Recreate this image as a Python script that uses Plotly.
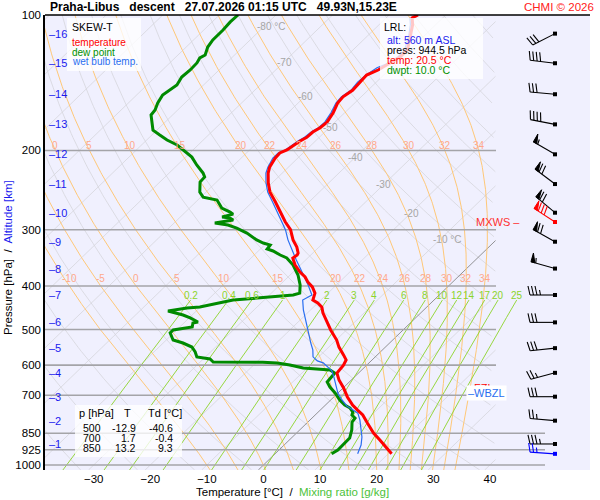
import numpy as np
import plotly.graph_objects as go

# temperature profile (hPa, degC)
t_pres = [100, 101.5, 105, 111, 117, 120, 124, 128, 130.5, 132.5, 136, 141, 147, 152, 157, 165, 173, 178,
          182, 187, 190.5, 195.5, 199.5, 202.6, 208, 218, 224.5, 236, 247.5, 260, 274, 288, 300, 316, 328,
          338, 341.5, 347, 359, 372.5, 382, 392, 402, 415, 430, 436.5, 446, 459, 481, 501, 527.5, 547, 570,
          584, 600, 615, 625, 647, 674.5, 706, 736, 755, 774, 807, 849, 880, 912, 944.5]
t_vals = [-54.9, -55.4, -54.1, -52.5, -51.0, -50.4, -50.4, -51.1, -51.6, -51.9, -53.0, -52.9, -52.7, -53.2,
          -53.0, -52.0, -51.4, -51.6, -52.1, -52.2, -52.7, -53.1, -53.4, -54.1, -54.0, -53.3, -52.5, -50.7,
          -48.7, -46.0, -43.3, -40.6, -38.2, -35.9, -33.9, -32.6, -32.4, -32.6, -31.0, -28.8, -27.0, -25.6,
          -23.9, -22.3, -21.4, -20.0, -18.5, -17.3, -14.9, -12.8, -9.9, -8.2, -5.9, -4.6, -4.1, -4.0, -3.8,
          -2.2, 0.1, 2.4, 4.8, 6.6, 8.4, 10.7, 13.6, 16.0, 18.4, 20.6]

# wet bulb temperature
w_pres = [101.5, 105, 111, 117, 120, 124, 128, 131, 136, 141, 147, 152, 157, 165, 173, 178, 182, 187, 190.5,
          195.5, 199.5, 202.6, 208, 218, 224.5, 236, 247.5, 260, 274, 288, 300, 316, 333, 350, 365, 384, 398,
          419, 423, 430, 452, 469, 484, 501, 519.5, 536, 555, 575, 587, 593, 606, 618, 638, 664, 692, 717,
          740, 755, 767, 794, 836, 867, 903, 944.5]
w_vals = [-55.8, -54.5, -52.8, -51.4, -50.8, -50.8, -51.4, -52.5, -53.1, -53.3, -53.0, -53.5, -53.3, -52.4,
          -51.8, -51.9, -52.4, -52.6, -53.1, -53.4, -53.7, -54.4, -54.4, -53.6, -52.9, -51.1, -49.1, -46.5,
          -43.8, -41.3, -39.1, -36.8, -34.2, -31.7, -29.5, -26.8, -25.0, -22.5, -22.8, -23.2, -21.3, -19.7,
          -18.3, -16.8, -15.3, -13.9, -12.3, -11.0, -9.5, -8.1, -6.5, -5.1, -3.6, -1.8, 0.0, 2.0, 4.0, 5.8,
          7.2, 8.8, 10.8, 12.3, 13.6, 14.6]

# dew point
d_pres = [100, 103.6, 108, 113.6, 117.8, 122.7, 124.6, 127.8, 132.5, 137.4, 143.1, 146.8, 150.6, 156.9,
          162.6, 166.8, 173.8, 180.2, 184.8, 189.6, 194.5, 199.5, 206.9, 215.4, 224.5, 229.1, 235, 247.5,
          253.9, 257.8, 264.5, 268.6, 274.1, 277, 281.2, 282.7, 285.5, 289.9, 292.9, 297.5, 305.2, 316.2,
          321.1, 324.4, 331.1, 334.5, 341.5, 346.7, 359.4, 378.3, 398.1, 414.9, 419, 430, 445.6, 447.8,
          454.8, 464.2, 471.3, 481.1, 483.6, 493.5, 501.2, 508.9, 527.5, 535.7, 546.8, 561, 575.4, 581.4,
          590.3, 590.6, 591, 593.4, 599.5, 608.8, 611.9, 615.1, 624.6, 640.8, 654.1, 671, 691.8, 717, 735.8,
          747.2, 762.6, 774.4, 786.4, 802.6, 835.9, 871, 902.7, 926.1, 944.5]
d_vals = [-86.7, -86.8, -86.6, -86.6, -86.2, -85.2, -85.6, -85.2, -85.1, -85.3, -84.7, -85.0, -85.4, -84.8,
          -84.0, -83.8, -82.2, -80.7, -78.6, -76.4, -73.7, -71.8, -68.9, -66.6, -64.0, -63.0, -62.9, -61.1,
          -59.6, -56.6, -55.2, -54.3, -52.1, -51.2, -52.6, -51.0, -50.1, -52.8, -50.1, -48.0, -45.3, -42.3,
          -40.6, -39.0, -38.8, -37.4, -35.4, -33.7, -31.3, -28.6, -26.4, -25.0, -25.8, -35.5, -40.1, -42.2,
          -45.0, -41.6, -39.8, -37.7, -38.4, -37.8, -40.6, -40.6, -38.8, -36.5, -34.2, -32.7, -31.5, -28.8,
          -27.7, -23.0, -18.9, -16.2, -13.6, -10.7, -8.1, -5.6, -4.2, -4.1, -3.9, -2.5, -0.5, 1.6, 3.4, 4.9,
          6.1, 6.5, 7.6, 7.8, 9.2, 10.3, 10.4, 10.4, 10.0]

# altitude levels (km) and their pressure, wind at each of them
alt_km = [1, 2, 3, 4, 5, 6, 7, 8, 9, 10, 11, 12, 13, 14, 15, 16]
alt_pres = [898, 797, 705, 624, 550, 482, 419, 366, 319, 275, 237.5, 204, 175, 150, 128, 110]
wind_dir = [270, 275, 270, 255, 264, 270, 270, 286, 299, 310, 307, 300, 281, 275, 277, 243]
wind_spd = [35, 25, 30, 25, 30, 30, 35, 55, 70, 70, 70, 55, 40, 30, 40, 30]
sfc_wind = (944.5, 274, 25)
mxws_wind = (288.4, 303, 80)

lrl_alt = 560
lrl_press = 944.5
lrl_temp = 20.5
lrl_dwpt = 10.0

tab_p = [500, 700, 850]
tab_t = [-12.9, 1.7, 13.2]
tab_td = [-40.6, -0.4, 9.3]

p_ticks = [100, 200, 300, 400, 500, 600, 700, 850, 925, 1000]
t_ticks = [-30, -20, -10, 0, 10, 20, 30, 40]
isobars = [200, 300, 400, 500, 600, 700, 850, 925, 1000]
iso_lab_t = [-80, -70, -60, -50, -40, -30, -20, -10]
iso_lab_p = [106.3, 127.2, 151.4, 177.4, 206.9, 238.5, 275.5, 316.2]
thw_lines = [-10, -5, 0, 5, 10, 15, 20, 22, 24, 26, 28, 30, 32, 34]
thw_lab_200 = [0, 5, 10, 15, 20, 22, 24, 26, 28, 30, 32, 34]
mix_lines = [0.2, 0.4, 0.6, 1, 2, 3, 4, 6, 8, 10, 12, 14, 17, 20, 25]

# skew-T geometry
K_SKEW = 82.2
PXC = 5.66                      # pixels per degree
X_LEFT = -38.6
X_RIGHT = X_LEFT + 545 / PXC
P_BOTTOM = 10 ** (2 + 455 / 450)
X_GRID = 41.0


def skew(t, p):
    return np.asarray(t, float) + K_SKEW * np.log10(1000.0 / np.asarray(p, float))


def px2x(px):
    return X_LEFT + (px - 45) / PXC


def joined(segs):
    xs, ys = [], []
    for sx, sy in segs:
        xs += list(sx) + [None]
        ys += list(sy) + [None]
    return xs, ys


def line(segs, color, width, **kw):
    xs, ys = joined(segs)
    return go.Scatter(x=xs, y=ys, mode="lines", line=dict(color=color, width=width),
                      hoverinfo="skip", showlegend=False, **kw)


def moist_curve(thw):
    def f(T, p):
        tc = T - 273.15
        es = 6.112 * np.exp(17.67 * tc / (tc + 243.5))
        rs = 0.622 * es / (p - es)
        return (287.04 * T + 2.501e6 * rs) / (p * (1005.7 + 2.501e6 ** 2 * rs * 0.622 / (287.04 * T * T)))

    def run(p_end, h):
        T, p = thw + 273.15, 1000.0
        ps, ts = [p], [T]
        while (p_end - p) * np.sign(h) > 1e-6:
            k1 = f(T, p)
            k2 = f(T + h * k1 / 2, p + h / 2)
            k3 = f(T + h * k2 / 2, p + h / 2)
            k4 = f(T + h * k3, p + h)
            T += h * (k1 + 2 * k2 + 2 * k3 + k4) / 6
            p += h
            ps.append(p)
            ts.append(T)
        return ps, ts

    pu, tu = run(100.0, -2.0)
    pd_, td_ = run(1030.0, 2.0)
    return np.array(pd_[::-1] + pu[1:]), np.array(td_[::-1] + tu[1:]) - 273.15


def mix_td(w, p):
    e = w * p / (622.0 + w)
    a = np.log(e / 6.112)
    return 243.5 * a / (17.67 - a)


def masked(x, limit=X_GRID):
    x = np.array(x, float)
    return [None if v > limit else v for v in x]


fig = go.Figure()

# dry adiabats
segs = []
pg = np.geomspace(P_BOTTOM, 100, 120)
for th in range(220, 480, 10):
    tt = th * (pg / 1000.0) ** 0.2857 - 273.15
    segs.append((masked(skew(tt, pg)), pg))
fig.add_trace(line(segs, "#d6d6dc", 0.8))

# isotherms
segs = []
for t in range(-130, 50, 10):
    if t == 0:
        continue
    xb = float(skew(t, P_BOTTOM))
    if xb > X_GRID:
        continue
    pt = 100.0
    if float(skew(t, pt)) > X_GRID:
        pt = 1000.0 / 10 ** ((X_GRID - t) / K_SKEW)
    segs.append(([xb, float(skew(t, pt))], [P_BOTTOM, pt]))
fig.add_trace(line(segs, "#d6d6dc", 0.8))
pt0 = 1000.0 / 10 ** (X_GRID / K_SKEW)
fig.add_trace(line([([float(skew(0, P_BOTTOM)), X_GRID], [P_BOTTOM, pt0])], "#7a7a7a", 0.8))

# moist adiabats
moist = {}
segs = []
for thw in thw_lines:
    mp, mt = moist_curve(thw)
    moist[thw] = (mp, mt)
    segs.append((masked(skew(mt, mp)), mp))
fig.add_trace(line(segs, "#ffc878", 1.0))

# mixing ratio lines
segs = []
pm = np.geomspace(P_BOTTOM, 430, 40)
for w in mix_lines:
    segs.append((skew(mix_td(w, pm), pm), pm))
fig.add_trace(line(segs, "#8cd42a", 0.9))

# isobars
segs = []
for p in isobars:
    xr = px2x(545) if p >= 850 else px2x(496)
    segs.append(([X_LEFT, xr], [p, p]))
fig.add_trace(line(segs, "#a4a4a8", 1.6))

# profiles
fig.add_trace(line([(skew(d_vals, d_pres), d_pres)], "#008a00", 3))
fig.add_trace(line([(skew(w_vals, w_pres), w_pres)], "#2a6ef0", 1.2))
fig.add_trace(line([(skew(t_vals, t_pres), t_pres)], "#ff0000", 3))

# wind barbs
BARB_X = px2x(555)


def barb(p0, wdir, spd, color):
    d = np.radians(wdir)
    ux, uy = np.sin(d), -np.cos(d)
    nx, ny = -uy, ux
    ex, ey = ux * 25, uy * 25
    strokes = [[(0.0, 0.0), (ex, ey)]]
    flags = []
    pos = 0.0
    rest = int(5 * round(spd / 5.0))
    while rest >= 50:
        b1 = (ex - ux * pos, ey - uy * pos)
        b2 = (ex - ux * (pos + 4), ey - uy * (pos + 4))
        flags.append([b1, (b1[0] + nx * 9, b1[1] + ny * 9), b2])
        pos += 5.0
        rest -= 50
    while rest >= 10:
        b = (ex - ux * pos, ey - uy * pos)
        strokes.append([b, (b[0] + nx * 9 + ux * 2, b[1] + ny * 9 + uy * 2)])
        pos += 3.5
        rest -= 10
    if rest >= 5:
        b = (ex - ux * pos, ey - uy * pos)
        strokes.append([b, (b[0] + nx * 5 + ux, b[1] + ny * 5 + uy)])

    def conv(pts):
        return ([BARB_X + dx / PXC for dx, dy in pts], [p0 * 10 ** (dy / 450) for dx, dy in pts])

    fig.add_trace(line([conv(s) for s in strokes], color, 1.1))
    if flags:
        xs, ys = joined([conv(f + [f[0]]) for f in flags])
        fig.add_trace(go.Scatter(x=xs, y=ys, mode="lines", fill="toself", fillcolor=color,
                                 line=dict(color=color, width=1), hoverinfo="skip", showlegend=False))
    fig.add_trace(go.Scatter(x=[BARB_X], y=[p0], mode="markers", hoverinfo="skip", showlegend=False,
                             marker=dict(symbol="square", size=4, color=color)))


for p, wd, ws in zip(alt_pres, wind_dir, wind_spd):
    barb(p, wd, ws, "black")
barb(*mxws_wind, "#ff0000")
barb(*sfc_wind, "#0000ff")

# ----- text -----
FONT = "Liberation Sans, Arial, sans-serif"
ann = []


def note(text, px, py, color="black", size=10.5, xa="left", ya="middle", **kw):
    ann.append(dict(text=text, xref="paper", yref="paper", x=(px - 45) / 545, y=(470 - py) / 455,
                    showarrow=False, xanchor=xa, yanchor=ya, font=dict(color=color, size=size), **kw))


def dnote(text, x, p, color, size=10, xa="center", ya="middle", **kw):
    ann.append(dict(text=text, xref="x", yref="y", x=x, y=float(np.log10(p)), showarrow=False,
                    xanchor=xa, yanchor=ya, font=dict(color=color, size=size), **kw))


# isotherm labels
for t, p in zip(iso_lab_t, iso_lab_p):
    txt = f"{t} °C" if t in (-80, -10) else str(t)
    dnote(txt, float(skew(t, p)) - 9 / PXC, p, "#a6a6a6", 10, xa="left")

# moist adiabat labels: placed just above the 200 and 400 hPa isobars
for row_p, show_p, vals in ((200.0, 194.5, thw_lab_200), (400.0, 386.0, thw_lines)):
    for thw in vals:
        mp, mt = moist[thw]
        xv = float(np.interp(np.log10(row_p), np.log10(mp[::-1]), skew(mt, mp)[::-1]))
        dnote(str(thw), max(xv, X_LEFT + 7 / PXC), show_p, "#ffa88a", 10)

# mixing ratio labels
for w in mix_lines:
    dnote(f"{w:g}", float(skew(mix_td(w, 430.0), 430.0)), 419.0, "#8cd42a", 10)

# altitude labels
for km, p in zip(alt_km, alt_pres):
    dnote(f"–{km}", px2x(47), p, "#1a1aee", 11, xa="left")

# freezing levels from the profiles
t_arr, tp_arr = np.array(t_vals), np.array(t_pres)
i = np.where((t_arr[:-1] < 0) & (t_arr[1:] >= 0))[0][-1]
fzl_p = float(np.interp(0, [t_arr[i], t_arr[i + 1]], [tp_arr[i], tp_arr[i + 1]]))
w_arr, wp_arr = np.array(w_vals), np.array(w_pres)
j = np.where((w_arr[:-1] < 0) & (w_arr[1:] >= 0))[0][-1]
wbzl_p = float(np.interp(0, [w_arr[j], w_arr[j + 1]], [wp_arr[j], wp_arr[j + 1]]))
dnote("–FZL", px2x(466), fzl_p, "#ff0000", 11, xa="left")
dnote("–WBZL", px2x(466), wbzl_p, "#2a6ef0", 11, xa="left", bgcolor="white")
dnote("MXWS –", px2x(522), mxws_wind[0], "#ff3030", 11, xa="right")

# legend box
note("SKEW-T", 70, 27, size=10.5)
note("temperature", 70, 42, "#ff0000", 10)
note("dew point", 70, 52, "#009000", 10)
note("wet bulb temp.", 70, 62, "#2a6ef0", 10)

# lowest reported level box
note("LRL:", 382, 27)
note(f"alt: {lrl_alt} m ASL", 385, 40, "#1a1aee")
note(f"press: {lrl_press:.1f} hPa", 385, 50)
note(f"temp: {lrl_temp:.1f} °C", 385, 60, "#ff0000")
note(f"dwpt: {lrl_dwpt:.1f} °C", 385, 70, "#009000")

# table
note("p [hPa]", 77, 413, size=11)
note("T", 127, 413, size=11, xa="center")
note("Td [°C]", 146, 413, size=11)
for k, (p, t, td) in enumerate(zip(tab_p, tab_t, tab_td)):
    yy = 428 + k * 10.2
    note(str(p), 103, yy, xa="right")
    note(f"{t:.1f}", 138, yy, xa="right")
    note(f"{td:.1f}", 175, yy, xa="right")

# titles
sp = "\u00a0" * 3
note(f"<b>Praha-Libus{sp}descent{sp}27.07.2026 01:15 UTC{sp}49.93N,15.23E</b>", 48, 7, size=12)
note("CHMI © 2026", 596, 7, "#ff2020", 11.5, xa="right")
note('Temperature [°C]\u00a0 /\u00a0 <span style="color:#4cc23a">Mixing ratio [g/kg]</span>',
     292, 492, size=11.5, xa="center")
note('Pressure [hPa]\u00a0 /\u00a0 <span style="color:#1a1aee">Altitude [km]</span>',
     8, 258, size=11.5, xa="center", textangle=-90)

box = dict(type="rect", xref="paper", yref="paper", layer="above", line=dict(width=0),
           fillcolor="rgba(255,255,255,0.78)")
shapes = []
for x0, y0, x1, y1 in ((67, 18, 141, 71), (380, 18, 483, 79), (75, 405, 182, 457)):
    shapes.append(dict(box, x0=(x0 - 45) / 545, x1=(x1 - 45) / 545, y0=(470 - y1) / 455, y1=(470 - y0) / 455))
shapes.append(dict(type="line", xref="paper", yref="paper", x0=0, x1=1, y0=1, y1=1,
                   line=dict(color="black", width=1.5)))

fig.update_layout(
    width=600, height=500,
    margin=dict(l=45, r=10, t=15, b=30),
    paper_bgcolor="white", plot_bgcolor="#f0f0fe",
    font=dict(family=FONT, size=11.5, color="black"),
    showlegend=False,
    annotations=ann, shapes=shapes,
    xaxis=dict(range=[X_LEFT, X_RIGHT], tickvals=t_ticks, showgrid=False, zeroline=False,
               showline=False, ticks=""),
    yaxis=dict(type="log", range=[np.log10(P_BOTTOM), 2], tickvals=p_ticks,
               ticktext=[str(p) for p in p_ticks], showgrid=False, zeroline=False,
               showline=True, linecolor="black", linewidth=1.5, ticks=""),
)

# the page body has a default margin; drop it so the figure fills the window
fig.write_html("out.html", config={"displayModeBar": False},
               post_script="document.body.style.margin='0px';")
